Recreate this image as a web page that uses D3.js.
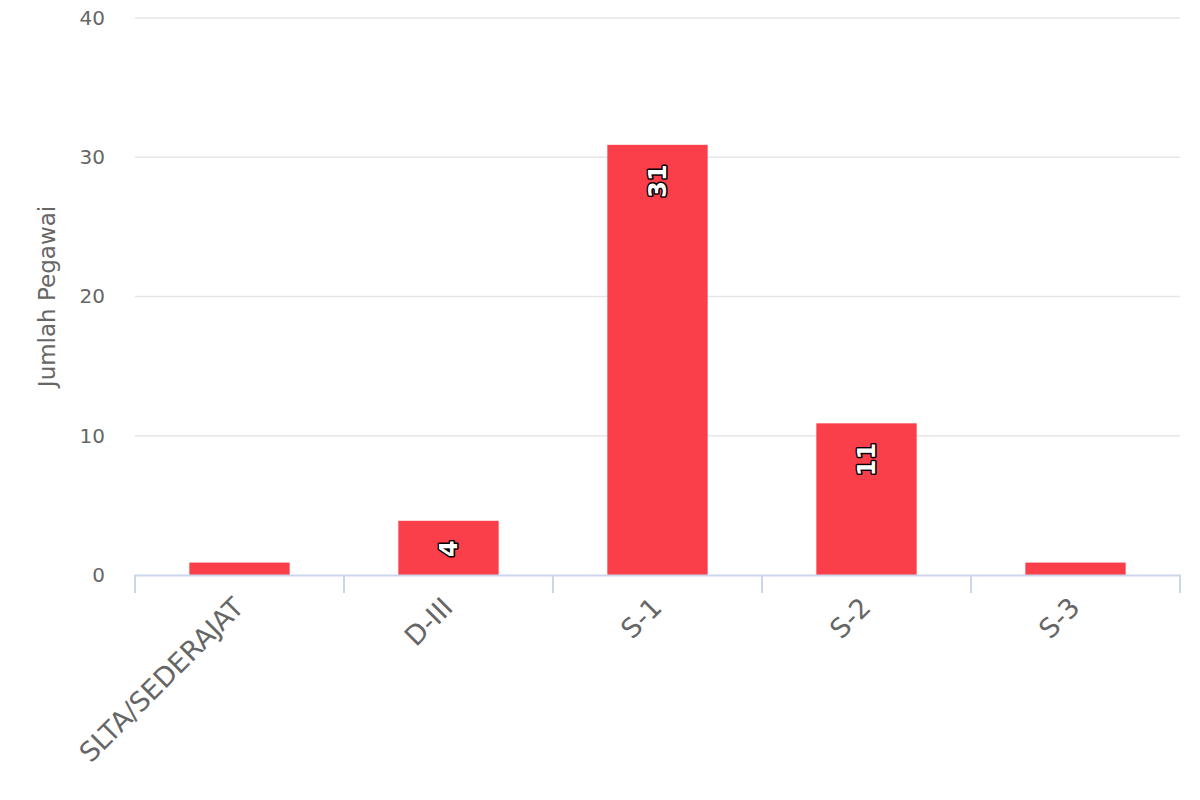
<!DOCTYPE html>
<html>
<head>
<meta charset="utf-8">
<script src="https://cdn.jsdelivr.net/npm/d3@7"></script>
<style>
  html, body { margin: 0; padding: 0; background: #fff; }
  svg { display: block; font-family: "DejaVu Sans", sans-serif; }
</style>
</head>
<body>
<svg id="chart" width="1200" height="800"></svg>
<script>
const categories = ["SLTA/SEDERAJAT", "D-III", "S-1", "S-2", "S-3"];
const values = [1, 4, 31, 11, 1];
const labelValues = [null, 4, 31, 11, null];
const yTicks = [0, 10, 20, 30, 40];
const yTitle = "Jumlah Pegawai";

const svg = d3.select("#chart");
const plotLeft = 135, plotRight = 1180, plotTop = 18, plotBottom = 575;

const x = d3.scaleBand().domain(categories).range([plotLeft, plotRight]).paddingInner(0.52).paddingOuter(0.26);
const y = d3.scaleLinear().domain([0, 40]).range([plotBottom, plotTop]);

// gridlines
svg.append("g").selectAll("line").data(yTicks.filter(d => d !== 0)).join("line")
  .attr("x1", plotLeft).attr("x2", plotRight)
  .attr("y1", d => y(d)).attr("y2", d => y(d))
  .attr("stroke", "#e6e6e6").attr("stroke-width", 1.5);

// y axis labels
const yAxis = d3.axisLeft(y).tickValues(yTicks).tickSize(0).tickPadding(0);
const gy = svg.append("g").attr("transform", `translate(105,0)`).call(yAxis);
gy.select(".domain").remove();
gy.selectAll("text").attr("fill", "#666").attr("font-size", "20px")
  .attr("font-family", "DejaVu Sans, sans-serif").attr("dy", "0.32em");

// y title
svg.append("text")
  .attr("transform", `translate(55,${(plotTop + plotBottom) / 2}) rotate(-90)`)
  .attr("text-anchor", "middle").attr("fill", "#666").attr("font-size", "23px")
  .text(yTitle);

// bars (1px white border inset like the original)
const inset = 1.5;
svg.append("g").selectAll("rect").data(categories).join("rect")
  .attr("x", d => x(d)).attr("width", x.bandwidth())
  .attr("y", (d, i) => y(values[i]) + inset)
  .attr("height", (d, i) => y(0) - y(values[i]) - inset)
  .attr("fill", "#fa3f4b");

// x axis line and ticks
const step = x.step();
svg.append("line").attr("x1", plotLeft).attr("x2", plotRight + 1).attr("y1", plotBottom + 0.5).attr("y2", plotBottom + 0.5)
  .attr("stroke", "#ccd6eb").attr("stroke-width", 2);
const boundaries = d3.range(categories.length + 1).map(i => plotLeft + i * step);
svg.append("g").selectAll("line").data(boundaries).join("line")
  .attr("x1", d => d).attr("x2", d => d)
  .attr("y1", plotBottom).attr("y2", plotBottom + 18)
  .attr("stroke", "#ccd6eb").attr("stroke-width", 2);

// x labels
svg.append("g").selectAll("text").data(categories).join("text")
  .attr("transform", d => `translate(${x(d) + x.bandwidth() / 2 + 6},${plotBottom + 34}) rotate(-45)`)
  .attr("text-anchor", "end").attr("fill", "#666").attr("font-size", "27px")
  .text(d => d);

// data labels
svg.append("g").selectAll("text").data(categories.map((c, i) => ({c, v: labelValues[i], val: values[i]})).filter(d => d.v !== null))
  .join("text")
  .attr("transform", d => `translate(${x(d.c) + x.bandwidth() / 2},${y(d.val) + 21}) rotate(-90)`)
  .attr("text-anchor", "end").attr("dy", "0.36em")
  .attr("font-size", "24px").attr("font-weight", "bold")
  .attr("fill", "#fff").attr("stroke", "#000").attr("stroke-width", 3)
  .attr("stroke-linejoin", "round").attr("paint-order", "stroke")
  .text(d => d.v);
</script>
</body>
</html>
